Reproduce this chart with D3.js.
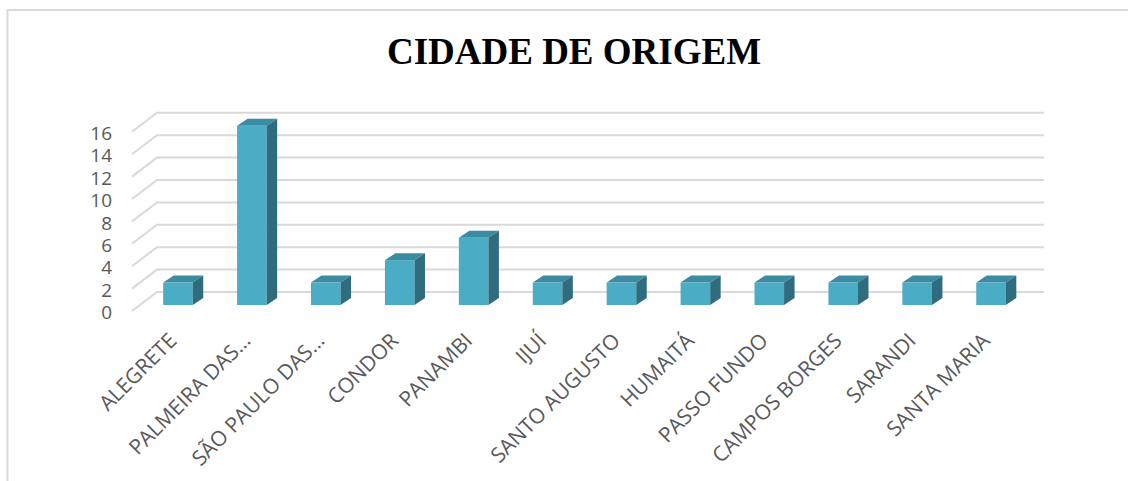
<!DOCTYPE html>
<html>
<head>
<meta charset="utf-8">
<script src="https://cdn.jsdelivr.net/npm/d3@7"></script>
<style>
  body { margin: 0; background: #fff; }
  svg { display: block; }
  .tick text { font-family: "Open Sans", sans-serif; fill: #595959; }
  .y-axis .tick text { font-size: 19px; }
  .x-axis .tick text { font-size: 21px; }
</style>
</head>
<body>
<div id="chart"></div>
<script>
// chart data
var cities = ["ALEGRETE", "PALMEIRA DAS…", "SÃO PAULO DAS…", "CONDOR", "PANAMBI", "IJUÍ",
  "SANTO AUGUSTO", "HUMAITÁ", "PASSO FUNDO", "CAMPOS BORGES", "SARANDI", "SANTA MARIA"];
var counts = [2, 16, 2, 4, 6, 2, 2, 2, 2, 2, 2, 2];
var yTicks = [0, 2, 4, 6, 8, 10, 12, 14, 16];
var title = "CIDADE DE ORIGEM";

var svgWidth = 1128;
var svgHeight = 481;

// front-left corner of the floor, and the 3d depth offset of the back wall
var floor = { left: 132, bottom: 311, width: 887 };
var depth = { dx: 25, dy: -19 };
// bar placement inside the depth, and bar thickness
var barShift = { dx: 9, dy: -6 };
var barDepth = { dx: 10.5, dy: -7 };

var svg = d3.select("#chart")
  .append("svg")
  .attr("width", svgWidth)
  .attr("height", svgHeight);

// chart border
svg.append("rect")
  .attr("x", 7.5)
  .attr("y", 10)
  .attr("width", svgWidth + 20)
  .attr("height", svgHeight + 20)
  .attr("fill", "none")
  .attr("stroke", "#d9d9d9")
  .attr("stroke-width", 2);

// title
svg.append("text")
  .attr("x", 574)
  .attr("y", 64)
  .attr("text-anchor", "middle")
  .style("font-family", "'Liberation Serif', 'Times New Roman', serif")
  .style("font-weight", "bold")
  .style("font-size", "37px")
  .attr("fill", "#000")
  .text(title);

// scales
var xScale = d3.scaleBand()
  .domain(cities)
  .range([floor.left, floor.left + floor.width])
  .paddingInner(0.6)
  .paddingOuter(0.3);

var yScale = d3.scaleLinear()
  .domain([0, 16])
  .range([floor.bottom, floor.bottom - 179.2]);

// gridlines: side wall diagonal + back wall line
var grid = svg.append("g");
yTicks.forEach(function(t) {
  var y = yScale(t);
  grid.append("polyline")
    .attr("points", [
      [floor.left, y],
      [floor.left + depth.dx, y + depth.dy],
      [floor.left + floor.width + depth.dx, y + depth.dy]
    ].map(p => p.join(",")).join(" "))
    .attr("fill", "none")
    .attr("stroke", "#d9d9d9")
    .attr("stroke-width", 2);
});

// y axis labels
var leftAxis = d3.axisLeft(yScale).tickValues(yTicks).tickSize(0).tickPadding(20);
var yAxis = svg.append("g")
  .attr("class", "y-axis")
  .attr("transform", `translate(${floor.left}, 1)`)
  .call(leftAxis);
yAxis.select(".domain").remove();
yAxis.selectAll("text").attr("dy", "0.35em");

// bars
var bars = svg.append("g")
  .selectAll("g")
  .data(counts)
  .enter()
  .append("g")
  .attr("transform", (d, i) => `translate(${xScale(cities[i]) + barShift.dx}, ${barShift.dy})`);

var bw = xScale.bandwidth();

// front face
bars.append("rect")
  .attr("x", 0)
  .attr("y", d => yScale(d))
  .attr("width", bw)
  .attr("height", d => yScale(0) - yScale(d))
  .attr("fill", "#4bacc6");

// top face
bars.append("polygon")
  .attr("points", d => {
    var y = yScale(d);
    return [[0, y], [barDepth.dx, y + barDepth.dy], [bw + barDepth.dx, y + barDepth.dy], [bw, y]]
      .map(p => p.join(",")).join(" ");
  })
  .attr("fill", "#3a8ca3");

// side face
bars.append("polygon")
  .attr("points", d => {
    var y = yScale(d), y0 = yScale(0);
    return [[bw, y], [bw + barDepth.dx, y + barDepth.dy], [bw + barDepth.dx, y0 + barDepth.dy], [bw, y0]]
      .map(p => p.join(",")).join(" ");
  })
  .attr("fill", "#2f6d7e");

// category labels
var bottomAxis = d3.axisBottom(xScale).tickSize(0);
var xAxis = svg.append("g")
  .attr("class", "x-axis")
  .attr("transform", `translate(${barShift.dx}, ${floor.bottom + 31})`)
  .call(bottomAxis);
xAxis.select(".domain").remove();
xAxis.selectAll("text")
  .attr("x", 0)
  .attr("y", 0)
  .attr("dy", 0)
  .attr("text-anchor", "end")
  .attr("transform", "rotate(-45)");
</script>
</body>
</html>
